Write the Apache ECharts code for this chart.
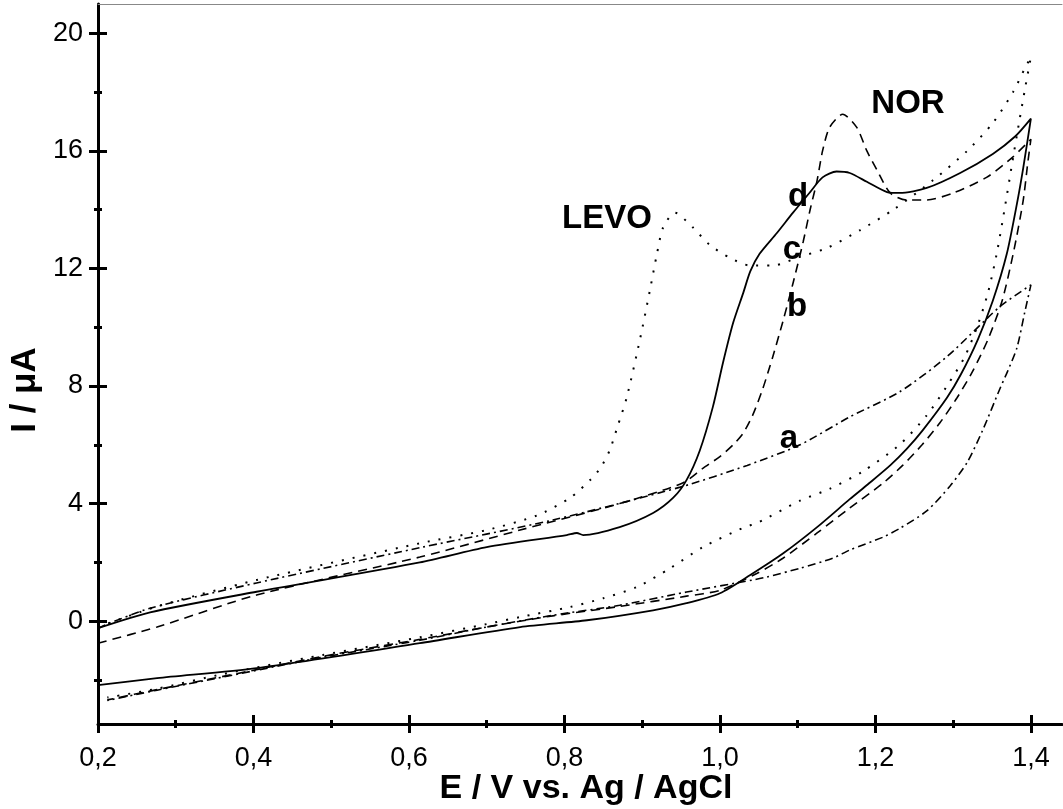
<!DOCTYPE html>
<html><head><meta charset="utf-8">
<script src="https://cdn.jsdelivr.net/npm/echarts@6/dist/echarts.min.js"></script>
<style>html,body{margin:0;padding:0;background:#fff}#c{width:1063px;height:809px}</style>
</head><body><div id="c"></div>
<script>
// Curve a (dash-dot): forward then reverse sweep
const aE = [0.2, 0.212, 0.267, 0.404, 0.614, 0.785, 0.949, 1.035, 1.103, 1.167, 1.231, 1.292, 1.36, 1.4,
            1.392, 1.382, 1.37, 1.36, 1.338, 1.318, 1.296, 1.266, 1.231, 1.21, 1.167, 1.145, 1.103, 1.06, 1.042, 0.957, 0.871, 0.785, 0.70, 0.614, 0.489, 0.361, 0.276, 0.212];
const aI = [-0.25, -0.1, 0.44, 1.3, 2.5, 3.44, 4.56, 5.3, 6.0, 6.95, 7.8, 9.0, 10.7, 11.44,
            10.5, 9.3, 8.5, 7.9, 6.5, 5.4, 4.6, 3.75, 3.15, 2.86, 2.42, 2.14, 1.8, 1.5, 1.4, 0.99, 0.54, 0.2, -0.2, -0.65, -1.23, -1.9, -2.35, -2.7];
// Curve b (dashed, NOR)
const bE = [0.2, 0.276, 0.404, 0.614, 0.743, 0.871, 0.952, 0.978, 1.0, 1.017, 1.03, 1.042, 1.055, 1.068, 1.081, 1.094, 1.107, 1.116, 1.125, 1.132, 1.141, 1.158, 1.176, 1.189, 1.202, 1.219, 1.24, 1.266, 1.3, 1.343, 1.377, 1.4,
            1.396, 1.39, 1.378, 1.363, 1.345, 1.325, 1.305, 1.283, 1.26, 1.235, 1.21, 1.167, 1.125, 1.081, 1.048, 1.0, 0.957, 0.871, 0.785, 0.7, 0.614, 0.489, 0.361, 0.276, 0.212];
const bI = [-0.75, -0.2, 0.89, 2.18, 3.1, 4.0, 4.7, 5.2, 5.6, 6.0, 6.4, 7.0, 7.9, 9.0, 10.2, 11.5, 12.9, 14.0, 15.0, 16.0, 16.8, 17.25, 16.8, 16.0, 15.35, 14.57, 14.33, 14.33, 14.57, 15.1, 15.8, 16.4,
            15.6, 14.3, 12.6, 10.9, 9.6, 8.5, 7.6, 6.75, 6.0, 5.3, 4.7, 3.85, 3.0, 2.14, 1.63, 1.05, 0.85, 0.5, 0.18, -0.2, -0.62, -1.2, -1.88, -2.33, -2.68];
// Curve c (dotted, LEVO)
const cE = [0.2, 0.276, 0.404, 0.614, 0.70, 0.765, 0.807, 0.833, 0.846, 0.858, 0.868, 0.88, 0.897, 0.91, 0.919, 0.927, 0.942, 0.965, 0.987, 1.013, 1.039, 1.068, 1.103, 1.138, 1.18, 1.223, 1.274, 1.318, 1.351, 1.377, 1.392, 1.4,
            1.393, 1.385, 1.376, 1.366, 1.356, 1.345, 1.332, 1.315, 1.292, 1.266, 1.231, 1.184, 1.141, 1.103, 1.048, 1.032, 0.978, 0.936, 0.893, 0.85, 0.807, 0.743, 0.7, 0.614, 0.489, 0.361, 0.276, 0.212];
const cI = [-0.2, 0.5, 1.4, 2.65, 3.1, 3.6, 4.19, 4.8, 5.2, 5.8, 6.6, 7.6, 9.57, 11.27, 12.5, 13.4, 13.9, 13.4, 12.8, 12.36, 12.1, 12.1, 12.4, 12.7, 13.3, 14.0, 15.0, 16.0, 16.95, 18.0, 18.8, 19.2,
            18.2, 17.0, 15.6, 14.0, 12.5, 11.2, 10.1, 9.0, 8.0, 7.0, 6.0, 5.1, 4.5, 4.1, 3.34, 3.2, 2.52, 1.8, 1.16, 0.78, 0.48, 0.14, -0.1, -0.55, -1.15, -1.8, -2.3, -2.6];
// Curve d (solid, LEVO + NOR)
const dE = [0.2, 0.267, 0.404, 0.614, 0.7, 0.803, 0.816, 0.824, 0.871, 0.914, 0.94, 0.957, 0.974, 0.991, 1.004, 1.017, 1.03, 1.039, 1.051, 1.073, 1.094, 1.116, 1.132, 1.15, 1.167, 1.189, 1.215, 1.231, 1.266, 1.309, 1.351, 1.38, 1.4,
            1.39, 1.382, 1.369, 1.351, 1.332, 1.31, 1.292, 1.261, 1.24, 1.219, 1.19, 1.167, 1.125, 1.081, 1.039, 1.0, 0.957, 0.914, 0.829, 0.743, 0.614, 0.404, 0.276, 0.2];
const dI = [-0.24, 0.3, 1.0, 2.0, 2.52, 2.93, 3.0, 2.93, 3.2, 3.68, 4.2, 4.8, 5.8, 7.3, 8.8, 10.15, 11.17, 11.9, 12.5, 13.2, 13.9, 14.6, 15.1, 15.3, 15.25, 14.95, 14.6, 14.57, 14.74, 15.25, 15.9, 16.5, 17.1,
            15.4, 14.2, 12.5, 10.9, 9.6, 8.4, 7.6, 6.5, 5.85, 5.3, 4.65, 4.15, 3.2, 2.3, 1.57, 0.95, 0.61, 0.37, 0.03, -0.2, -0.75, -1.6, -1.94, -2.18];

const xMajor = [0.2, 0.4, 0.6, 0.8, 1.0, 1.2, 1.4];
const xMinor = [0.3, 0.5, 0.7, 0.9, 1.1, 1.3];
const yMajor = [0, 4, 8, 12, 16, 20];
const yMinor = [-2, 2, 6, 10, 14, 18];

const zip = (E, I) => E.map((e, i) => [e, I[i]]);
const FONT = 'Arial, "Liberation Sans", sans-serif';
const X_MIN = 0.2, X_MAX = 1.44, Y_MIN = -3.5, Y_MAX = 21;

function tickAxis(kind, vals, inside, len, extra) {
  const base = {
    type: 'value', min: kind === 'x' ? X_MIN : Y_MIN, max: kind === 'x' ? X_MAX : Y_MAX,
    position: kind === 'x' ? 'bottom' : 'left',
    axisLine: { show: false, onZero: false }, splitLine: { show: false },
    axisTick: { show: true, inside: inside, length: len, customValues: vals, lineStyle: { color: '#000', width: 3 } },
    axisLabel: { show: false }
  };
  return Object.assign(base, extra || {});
}

const xAxes = [
  tickAxis('x', xMajor, false, 9, {
    axisLine: { show: true, onZero: false, lineStyle: { color: '#000', width: 3 } },
    axisLabel: { show: true, customValues: xMajor, margin: 21, color: '#000', fontSize: 27, fontFamily: FONT,
      formatter: v => v.toFixed(1).replace('.', ',') }
  }),
  tickAxis('x', xMajor, true, 9),
  tickAxis('x', xMinor, false, 4),
  tickAxis('x', xMinor, true, 4),
  { type: 'value', min: X_MIN, max: X_MAX, position: 'top', axisLine: { show: true, onZero: false, lineStyle: { color: '#888', width: 1 } },
    axisTick: { show: false }, axisLabel: { show: false }, splitLine: { show: false } }
];
const yAxes = [
  tickAxis('y', yMajor, false, 9, {
    axisLine: { show: true, onZero: false, lineStyle: { color: '#000', width: 3 } },
    axisLabel: { show: true, customValues: yMajor, margin: 15, color: '#000', fontSize: 27, fontFamily: FONT }
  }),
  tickAxis('y', yMajor, true, 9),
  tickAxis('y', yMinor, false, 4),
  tickAxis('y', yMinor, true, 4)
];

function lineSeries(name, E, I, dash, width) {
  return {
    name: name, type: 'line', xAxisIndex: 0, yAxisIndex: 0, data: zip(E, I),
    showSymbol: false, smooth: 0.25, animation: false, silent: true,
    lineStyle: { color: '#000', width: width, type: dash, cap: 'butt' }
  };
}

const chart = echarts.init(document.getElementById('c'), null, { renderer: 'canvas' });
const labelFont = 'bold 33px ' + FONT;
const t = (text, x, y, font, rot) => ({ type: 'text', x: x, y: y, rotation: rot || 0,
  style: { text: text, font: font || labelFont, fill: '#000', align: 'center', verticalAlign: 'middle' } });
chart.setOption({
  animation: false,
  backgroundColor: '#fff',
  grid: { left: 98, right: 1, top: 4, bottom: 85, containLabel: false },
  xAxis: xAxes,
  yAxis: yAxes,
  series: [
    lineSeries('a', aE, aI, [8, 4, 2, 4], 1.6),
    lineSeries('b', bE, bI, [9, 6], 1.6),
    lineSeries('c', cE, cI, [2, 9], 2),
    lineSeries('d', dE, dI, 'solid', 1.8)
  ],
  graphic: [
    t('LEVO', 607, 219), t('NOR', 908, 104),
    t('d', 798, 197), t('c', 792, 250), t('b', 797, 307), t('a', 789, 439),
    t('E / V vs. Ag / AgCl', 586, 789, 'bold 34px ' + FONT),
    t('I / μA', 25, 390, 'bold 35px ' + FONT, Math.PI / 2)
  ]
});
</script>
</body></html>
